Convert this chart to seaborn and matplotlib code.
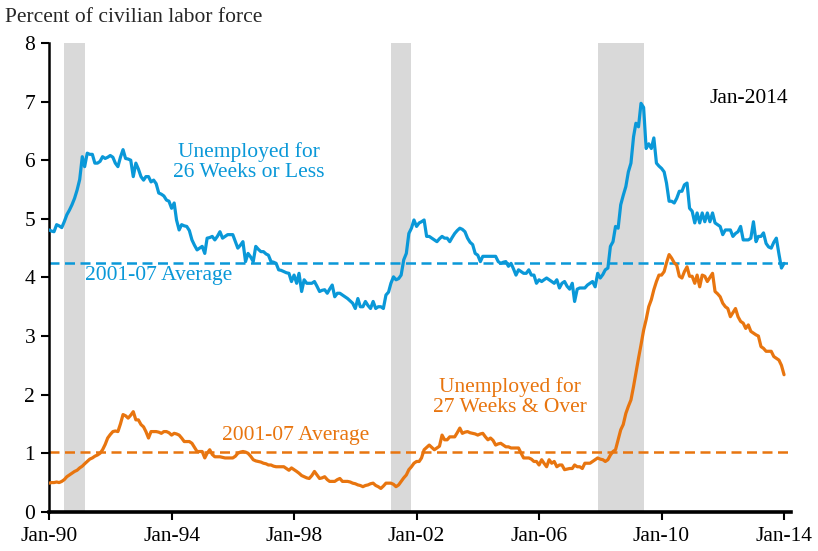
import pandas as pd
import matplotlib.pyplot as plt
import matplotlib.dates as mdates
import seaborn as sns

# monthly values, Jan 1990 - Jan 2014, percent of civilian labor force
short_term = [
    4.81, 4.79, 4.78, 4.90, 4.88, 4.85, 4.95, 5.07, 5.15, 5.24, 5.35, 5.49,  # 1990
    5.67, 6.06, 5.89, 6.12, 6.10, 6.10, 5.95, 5.95, 5.98, 6.06, 6.03, 6.05,  # 1991
    6.08, 6.05, 5.95, 5.89, 6.05, 6.18, 6.03, 6.02, 6.00, 5.72, 5.95, 5.85,  # 1992
    5.72, 5.66, 5.72, 5.72, 5.63, 5.66, 5.60, 5.44, 5.42, 5.39, 5.32, 5.30,  # 1993
    5.18, 5.27, 4.98, 4.81, 4.90, 4.88, 4.87, 4.80, 4.64, 4.55, 4.47, 4.50,  # 1994
    4.53, 4.41, 4.67, 4.68, 4.70, 4.64, 4.70, 4.78, 4.67, 4.70, 4.73, 4.73,  # 1995
    4.73, 4.61, 4.50, 4.55, 4.61, 4.27, 4.41, 4.35, 4.27, 4.53, 4.48, 4.44,  # 1996
    4.44, 4.40, 4.38, 4.27, 4.26, 4.24, 4.13, 4.12, 4.10, 4.08, 4.07, 3.93,  # 1997
    4.04, 3.90, 4.07, 3.76, 3.96, 3.90, 3.90, 3.90, 3.93, 3.85, 3.76, 3.78,  # 1998
    3.79, 3.73, 3.80, 3.87, 3.67, 3.73, 3.73, 3.70, 3.67, 3.64, 3.60, 3.56,  # 1999
    3.47, 3.64, 3.50, 3.50, 3.59, 3.52, 3.47, 3.59, 3.47, 3.50, 3.50, 3.47,  # 2000
    3.70, 3.75, 3.90, 4.01, 3.96, 3.98, 4.04, 4.30, 4.41, 4.75, 4.84, 4.98,  # 2001
    4.87, 4.93, 4.95, 4.98, 4.70, 4.70, 4.67, 4.64, 4.61, 4.66, 4.70, 4.67,  # 2002
    4.67, 4.61, 4.68, 4.75, 4.80, 4.84, 4.82, 4.78, 4.67, 4.60, 4.56, 4.41,  # 2003
    4.38, 4.27, 4.36, 4.36, 4.36, 4.36, 4.36, 4.36, 4.27, 4.24, 4.26, 4.27,  # 2004
    4.19, 4.24, 4.15, 4.04, 4.13, 4.10, 4.07, 4.07, 4.13, 4.04, 4.04, 3.90,  # 2005
    3.96, 3.93, 3.96, 3.99, 3.96, 3.93, 3.90, 3.96, 3.82, 3.90, 3.93, 3.85,  # 2006
    3.80, 3.90, 3.59, 3.80, 3.82, 3.82, 3.82, 3.87, 3.90, 3.93, 3.84, 4.07,  # 2007
    3.99, 4.05, 4.13, 4.16, 4.53, 4.61, 4.87, 4.84, 5.24, 5.40, 5.55, 5.80,  # 2008
    5.95, 6.40, 6.63, 6.57, 6.97, 6.90, 6.20, 6.28, 6.20, 6.38, 5.95, 5.90,  # 2009
    5.86, 5.80, 5.61, 5.30, 5.30, 5.27, 5.35, 5.47, 5.47, 5.58, 5.61, 5.18,  # 2010
    5.13, 4.93, 5.10, 4.93, 5.10, 4.95, 5.10, 4.95, 5.10, 4.93, 4.90, 4.87,  # 2011
    4.73, 4.81, 4.81, 4.81, 4.70, 4.75, 4.78, 4.87, 4.64, 4.64, 4.64, 4.67,  # 2012
    4.95, 4.61, 4.70, 4.70, 4.76, 4.58, 4.52, 4.50, 4.60, 4.67, 4.40, 4.16,  # 2013
    4.24,                                                                    # 2014
]

long_term = [
    0.49, 0.50, 0.50, 0.51, 0.50, 0.52, 0.55, 0.60, 0.63, 0.66, 0.69, 0.71,  # 1990
    0.75, 0.78, 0.82, 0.86, 0.90, 0.92, 0.95, 0.97, 1.00, 1.06, 1.15, 1.26,  # 1991
    1.32, 1.37, 1.38, 1.37, 1.50, 1.66, 1.64, 1.60, 1.65, 1.71, 1.57, 1.57,  # 1992
    1.49, 1.45, 1.37, 1.26, 1.37, 1.37, 1.37, 1.36, 1.34, 1.37, 1.37, 1.35,  # 1993
    1.31, 1.34, 1.33, 1.31, 1.26, 1.20, 1.20, 1.20, 1.17, 1.10, 1.03, 1.03,  # 1994
    1.03, 0.92, 1.00, 1.06, 0.98, 0.94, 0.94, 0.94, 0.93, 0.92, 0.92, 0.92,  # 1995
    0.92, 0.95, 1.00, 1.02, 1.03, 1.02, 1.00, 0.95, 0.89, 0.87, 0.86, 0.85,  # 1996
    0.83, 0.82, 0.80, 0.80, 0.78, 0.77, 0.77, 0.77, 0.77, 0.74, 0.71, 0.75,  # 1997
    0.72, 0.69, 0.66, 0.62, 0.60, 0.58, 0.57, 0.62, 0.69, 0.63, 0.57, 0.58,  # 1998
    0.60, 0.55, 0.52, 0.52, 0.52, 0.55, 0.57, 0.52, 0.52, 0.52, 0.51, 0.49,  # 1999
    0.48, 0.46, 0.45, 0.43, 0.45, 0.46, 0.48, 0.49, 0.45, 0.43, 0.40, 0.44,  # 2000
    0.49, 0.49, 0.49, 0.47, 0.43, 0.46, 0.52, 0.58, 0.63, 0.72, 0.77, 0.83,  # 2001
    0.86, 0.86, 0.92, 1.06, 1.10, 1.14, 1.10, 1.06, 1.09, 1.12, 1.31, 1.23,  # 2002
    1.23, 1.28, 1.28, 1.28, 1.35, 1.43, 1.34, 1.36, 1.37, 1.35, 1.34, 1.33,  # 2003
    1.31, 1.33, 1.34, 1.28, 1.23, 1.26, 1.22, 1.14, 1.16, 1.17, 1.14, 1.11,  # 2004
    1.11, 1.09, 1.09, 1.09, 1.09, 1.00, 0.92, 0.92, 0.92, 0.90, 0.86, 0.86,  # 2005
    0.80, 0.89, 0.83, 0.77, 0.89, 0.83, 0.86, 0.77, 0.80, 0.80, 0.72, 0.73,  # 2006
    0.74, 0.74, 0.80, 0.77, 0.77, 0.74, 0.83, 0.83, 0.83, 0.86, 0.89, 0.92,  # 2007
    0.90, 0.89, 0.86, 0.89, 0.97, 1.03, 1.06, 1.23, 1.40, 1.49, 1.68, 1.80,  # 2008
    1.91, 2.14, 2.37, 2.62, 2.85, 3.10, 3.28, 3.50, 3.62, 3.79, 3.93, 4.04,  # 2009
    4.04, 4.10, 4.25, 4.39, 4.33, 4.25, 4.21, 4.02, 3.99, 4.10, 4.18, 4.02,  # 2010
    4.02, 3.90, 4.04, 3.84, 4.04, 4.02, 3.93, 4.00, 4.07, 3.76, 3.72, 3.67,  # 2011
    3.56, 3.50, 3.47, 3.33, 3.40, 3.47, 3.33, 3.25, 3.22, 3.13, 3.19, 3.08,  # 2012
    3.05, 3.02, 3.00, 2.82, 2.79, 2.74, 2.74, 2.74, 2.65, 2.62, 2.59, 2.50,  # 2013
    2.34,                                                                    # 2014
]

avg_short = 4.25
avg_long = 1.02

recessions = [("1990-07-01", "1991-03-01"),
              ("2001-03-01", "2001-11-01"),
              ("2007-12-01", "2009-06-01")]

tick_years = [1990, 1994, 1998, 2002, 2006, 2010, 2014]

blue = "#0A98D8"
orange = "#E8750F"

dates = pd.date_range("1990-01-01", periods=len(short_term), freq="MS")
df = pd.DataFrame({"date": dates, "short": short_term, "long": long_term})

sns.set_style("white")
plt.rcParams["font.family"] = ["Liberation Serif", "DejaVu Serif"]
fs = 15.5

fig = plt.figure(figsize=(8.18, 5.51), dpi=100)
ax = fig.add_axes([0.06, 0.071, 0.907, 0.851])

for start, end in recessions:
    ax.axvspan(pd.Timestamp(start), pd.Timestamp(end), color="#D9D9D9", lw=0, zorder=0)

sns.lineplot(data=df, x="date", y="short", color=blue, lw=2.3, ax=ax, zorder=3)
sns.lineplot(data=df, x="date", y="long", color=orange, lw=2.3, ax=ax, zorder=3)

ax.axhline(avg_short, color=blue, lw=1.8, dashes=(4, 2.2), zorder=2)
ax.axhline(avg_long, color=orange, lw=1.8, dashes=(4, 2.2), zorder=2)

ax.set_xlim(pd.Timestamp("1990-01-01"), pd.Timestamp("2014-03-25"))
ax.set_ylim(0, 8)
ax.set_xticks([pd.Timestamp(f"{y}-01-01") for y in tick_years])
ax.xaxis.set_major_formatter(mdates.DateFormatter("%b-%y"))
ax.set_yticks(range(0, 9))
ax.set_xlabel("")
ax.set_ylabel("")

for side in ["top", "right"]:
    ax.spines[side].set_visible(False)
ax.spines["left"].set_linewidth(1.8)
ax.spines["bottom"].set_linewidth(2.6)
ax.spines["left"].set_color("black")
ax.spines["bottom"].set_color("black")
ax.tick_params(axis="both", direction="out", length=6, width=1.5, colors="black",
               labelsize=fs, left=True, bottom=True)
ax.tick_params(axis="x", pad=5)
ax.tick_params(axis="y", pad=4)

ax.text(pd.Timestamp("1996-07-15"), 5.97, "Unemployed for\n26 Weeks or Less",
        color=blue, fontsize=fs, ha="center", va="center", linespacing=1.05)
ax.text(pd.Timestamp("1991-03-01"), 4.03, "2001-07 Average",
        color=blue, fontsize=fs, ha="left", va="center")
ax.text(pd.Timestamp("1998-01-15"), 1.30, "2001-07 Average",
        color=orange, fontsize=fs, ha="center", va="center")
ax.text(pd.Timestamp("2005-01-20"), 1.96, "Unemployed for\n27 Weeks & Over",
        color=orange, fontsize=fs, ha="center", va="center", linespacing=1.05)
ax.text(pd.Timestamp("2014-02-20"), 7.06, "Jan-2014",
        color="black", fontsize=fs, ha="right", va="center")

fig.text(0.006, 0.969, "Percent of civilian labor force", fontsize=fs,
         ha="left", va="center")

fig.savefig("out.png", dpi=100)
